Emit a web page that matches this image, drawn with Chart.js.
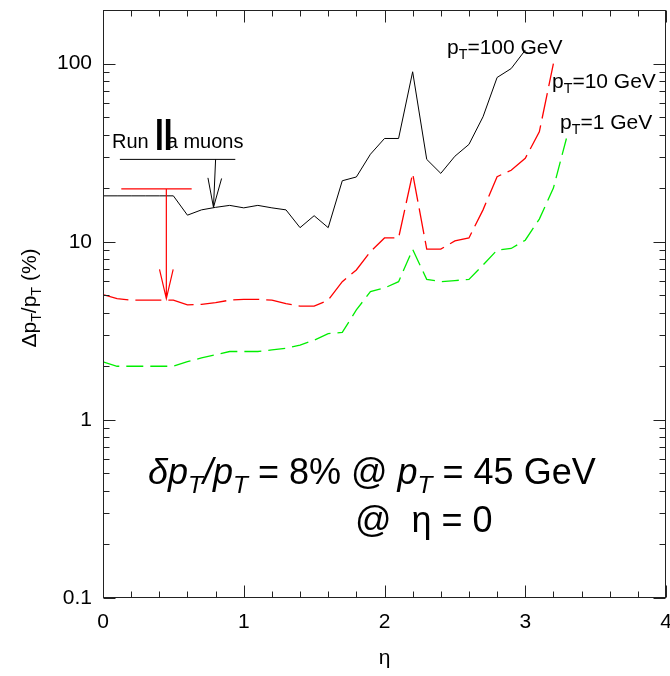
<!DOCTYPE html>
<html>
<head>
<meta charset="utf-8">
<script src="https://cdn.jsdelivr.net/npm/chart.js@4.4.1/dist/chart.umd.min.js"></script>
<style>
  body { margin: 0; background: #fff; }
  #wrap { width: 670px; height: 676px; }
</style>
</head>
<body>
<div id="wrap"><canvas id="resChart"></canvas></div>
<script>
"use strict";
// momentum resolution vs pseudorapidity, three pT values
const eta = [0, 0.1, 0.2, 0.3, 0.4, 0.5, 0.6, 0.7, 0.8, 0.9, 1.0, 1.1, 1.2, 1.3, 1.4, 1.5, 1.6,
  1.7, 1.8, 1.9, 2.0, 2.1, 2.2, 2.3, 2.4, 2.5, 2.6, 2.7, 2.8, 2.9, 3.0, 3.1, 3.2, 3.3];
const res100 = [18.1, 18.1, 18.1, 18.1, 18.1, 18.1, 14.1, 15.1, 15.6, 16.0, 15.5, 16.0, 15.5, 15.1,
  12.0, 14.0, 12.0, 22.0, 23.1, 31, 38, 38, 90, 29, 24.2, 30.2, 35.2, 50.3, 83.6, 93.8, 119];
const res10 = [5.05, 4.8, 4.7, 4.7, 4.7, 4.7, 4.42, 4.45, 4.55, 4.7, 4.75, 4.75, 4.7, 4.5, 4.35, 4.35,
  4.7, 5.97, 6.94, 8.8, 10.5, 10.5, 24.2, 9.1, 9.1, 10.1, 10.5, 15.1, 23.2, 25.2, 29.4, 41.4, 100];
const res1 = [2.12, 2.0, 2.0, 2.0, 2.0, 2.0, 2.12, 2.23, 2.32, 2.42, 2.42, 2.42, 2.47, 2.52, 2.63, 2.8,
  3.05, 3.1, 4.14, 5.25, 5.5, 5.97, 9.06, 6.15, 5.97, 6.05, 6.15, 7.4, 8.98, 9.17, 10.2, 13.4, 20, 40];
const xLabels = [0, 1, 2, 3, 4];
const yLabels = [0.1, 1, 10, 100];

const FONT = "'Liberation Sans', Arial, sans-serif";
const pts = (vals) => vals.map((v, i) => ({ x: eta[i], y: v }));

// draws a run of text pieces, some italic / subscripted
function rich(ctx, parts, x, y, size) {
  for (const p of parts) {
    const s = p.sub ? size * 0.68 : size;
    ctx.font = (p.it ? "italic " : "") + s + "px " + FONT;
    ctx.fillText(p.t, x, y + (p.sub ? size * 0.24 : 0));
    x += ctx.measureText(p.t).width;
  }
  return x;
}
function richWidth(ctx, parts, size) {
  let w = 0;
  for (const p of parts) {
    ctx.font = (p.it ? "italic " : "") + (p.sub ? size * 0.68 : size) + "px " + FONT;
    w += ctx.measureText(p.t).width;
  }
  return w;
}

function arrow(ctx, x0, y0, x1, y1) {
  ctx.beginPath();
  ctx.moveTo(x0, y0);
  ctx.lineTo(x1, y1);
  const a = Math.atan2(y1 - y0, x1 - x0);
  const len = 30, spread = 0.23;
  ctx.moveTo(x1 - len * Math.cos(a - spread), y1 - len * Math.sin(a - spread));
  ctx.lineTo(x1, y1);
  ctx.lineTo(x1 - len * Math.cos(a + spread), y1 - len * Math.sin(a + spread));
  ctx.stroke();
}

const decor = {
  id: "decor",
  afterDraw(chart) {
    const { ctx, chartArea: a, scales: { x, y } } = chart;
    const px = (v) => x.getPixelForValue(v);
    const py = (v) => y.getPixelForValue(v);
    const L = Math.round(a.left) + 0.5, R = Math.round(a.right) - 0.5;
    const T = Math.round(a.top) + 0.5, B = Math.round(a.bottom) - 0.5;
    ctx.save();

    // frame and inward ticks
    ctx.strokeStyle = "#222";
    ctx.lineWidth = 1;
    ctx.strokeRect(L, T, R - L, B - T);
    ctx.beginPath();
    for (let i = 0; i <= 20; i++) {
      const v = i * 0.2, len = i % 5 === 0 ? 12 : 6;
      const xx = Math.round(px(v)) + 0.5;
      ctx.moveTo(xx, B); ctx.lineTo(xx, B - len);
      ctx.moveTo(xx, T); ctx.lineTo(xx, T + len);
    }
    for (const dec of yLabels) {
      for (let k = 1; k <= 9; k++) {
        const v = k * dec;
        if (v > y.max) break;
        const yy = Math.round(py(v)) + 0.5, len = k === 1 ? 12 : 6;
        ctx.moveTo(L, yy); ctx.lineTo(L + len, yy);
        ctx.moveTo(R, yy); ctx.lineTo(R - len, yy);
      }
    }
    ctx.stroke();

    ctx.fillStyle = "#000";
    ctx.textBaseline = "alphabetic";
    ctx.textAlign = "left";

    // curve labels
    const pT = (rest) => [{ t: "p" }, { t: "T", sub: true }, { t: rest }];
    rich(ctx, pT("=100 GeV"), px(2.444), py(113), 21);
    rich(ctx, pT("=10 GeV"), px(3.19), py(73), 21);
    rich(ctx, pT("=1 GeV"), px(3.247), py(43), 21);

    // Run IIa muons annotation
    ctx.font = "20px " + FONT;
    ctx.fillText("Run", px(0.064), py(33.5));
    ctx.fillText("a muons", px(0.453), py(33.5));
    ctx.save();
    ctx.translate(px(0.369), py(32.7));
    ctx.scale(0.7, 1);
    ctx.font = "bold 45px " + FONT;
    ctx.fillText("II", 0, 0);
    ctx.restore();

    ctx.lineWidth = 1;
    ctx.strokeStyle = "#000";
    ctx.beginPath();
    ctx.moveTo(px(0.12), py(29)); ctx.lineTo(px(0.94), py(29));
    ctx.stroke();
    arrow(ctx, px(0.80), py(29), px(0.785), py(15.6));

    ctx.strokeStyle = "#ff0000";
    ctx.lineWidth = 1.2;
    ctx.beginPath();
    ctx.moveTo(px(0.13), py(19.8)); ctx.lineTo(px(0.63), py(19.8));
    ctx.stroke();
    arrow(ctx, px(0.45), py(19.8), px(0.45), py(4.8));

    // resolution note
    ctx.fillStyle = "#000";
    rich(ctx, [{ t: "\u03b4p", it: true }, { t: "T", it: true, sub: true }, { t: "/p", it: true },
      { t: "T", it: true, sub: true }, { t: " = 8% @ " }, { t: "p", it: true },
      { t: "T", it: true, sub: true }, { t: " = 45 GeV" }], px(0.32), py(0.436), 36);
    rich(ctx, [{ t: "@  \u03b7 = 0" }], px(1.79), py(0.234), 36);

    // axis titles
    ctx.font = "21px " + FONT;
    ctx.textAlign = "center";
    ctx.fillText("\u03b7", (a.left + a.right) / 2, 664);
    ctx.textAlign = "left";
    const yt = [{ t: "\u0394p" }, { t: "T", sub: true }, { t: "/p" }, { t: "T", sub: true }, { t: " (%)" }];
    ctx.translate(36, (a.top + a.bottom) / 2 - 6);
    ctx.rotate(-Math.PI / 2);
    rich(ctx, yt, -richWidth(ctx, yt, 21) / 2, 0, 21);
    ctx.restore();
  },
};

const chart = new Chart(document.getElementById("resChart"), {
  type: "line",
  data: {
    datasets: [
      { data: pts(res100), borderColor: "#000", borderWidth: 1 },
      { data: pts(res10), borderColor: "#ff0000", borderWidth: 1.3, borderDash: [26, 7] },
      { data: pts(res1), borderColor: "#00ee00", borderWidth: 1.3, borderDash: [17, 7] },
    ],
  },
  options: {
    responsive: true,
    maintainAspectRatio: false,
    animation: false,
    layout: { padding: { left: 0, right: 4, top: 10, bottom: 0 } },
    elements: { point: { radius: 0 }, line: { tension: 0 } },
    plugins: { legend: { display: false }, tooltip: { enabled: false } },
    scales: {
      x: {
        type: "linear",
        min: 0,
        max: 4,
        grid: { display: false, drawTicks: false },
        border: { display: false },
        ticks: {
          stepSize: 1,
          padding: 12,
          color: "#000",
          font: { family: FONT, size: 21 },
          callback: (v) => (xLabels.includes(v) ? String(v) : ""),
        },
        afterFit: (s) => {
          s.height = 78;
          s.paddingLeft = 0;
          s.paddingRight = 0;
        },
      },
      y: {
        type: "logarithmic",
        min: 0.1,
        max: 200,
        grid: { display: false, drawTicks: false },
        border: { display: false },
        ticks: {
          autoSkip: false,
          padding: 11,
          color: "#000",
          font: { family: FONT, size: 21 },
          callback: (v) => {
            const hit = yLabels.find((d) => Math.abs(d - v) < d * 1e-6);
            return hit === undefined ? "" : String(hit);
          },
        },
        afterFit: (s) => {
          s.width = 103;
          s.paddingTop = 0;
          s.paddingBottom = 0;
        },
      },
    },
  },
  plugins: [decor],
});
</script>
</body>
</html>
